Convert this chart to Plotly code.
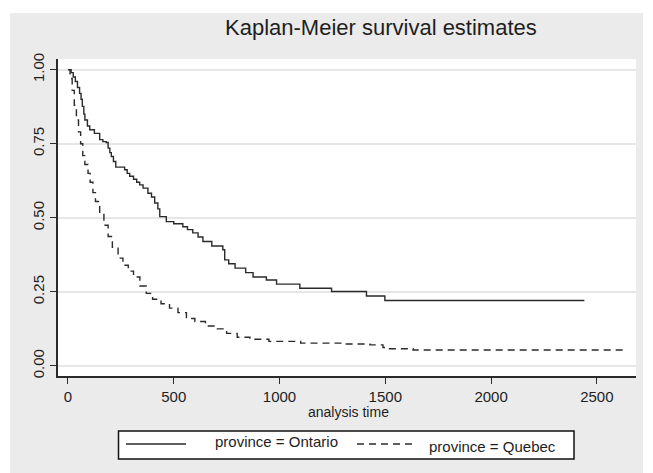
import plotly.graph_objects as go

# ---------------- data ----------------
ontario_time = [0, 15, 25, 35, 45, 55, 62, 68, 75, 80, 92, 103, 125, 150, 165, 181,
                190, 198, 205, 215, 226, 268, 280, 292, 310, 325, 339, 355, 378, 395,
                410, 425, 434, 465, 500, 543, 565, 590, 615, 638, 680, 732, 741, 760,
                790, 840, 875, 938, 986, 1096, 1246, 1411, 1498, 2441]
ontario_surv = [1.0, 0.99, 0.975, 0.96, 0.94, 0.92, 0.90, 0.876, 0.85, 0.83, 0.81, 0.797,
                0.785, 0.764, 0.757, 0.754, 0.735, 0.72, 0.707, 0.69, 0.671, 0.662, 0.65,
                0.64, 0.63, 0.62, 0.611, 0.60, 0.583, 0.57, 0.55, 0.53, 0.504, 0.487, 0.48,
                0.47, 0.46, 0.449, 0.435, 0.42, 0.405, 0.392, 0.358, 0.345, 0.33, 0.315,
                0.30, 0.29, 0.276, 0.262, 0.251, 0.236, 0.221, 0.221]

quebec_time = [0, 10, 20, 30, 40, 50, 60, 70, 80, 95, 105, 118, 130, 150, 170, 190, 210,
               237, 260, 285, 310, 340, 370, 400, 440, 480, 520, 560, 600, 650, 700, 750,
               800, 860, 950, 1100, 1300, 1427, 1489, 1520, 1631, 2625]
quebec_surv = [1.0, 0.97, 0.93, 0.88, 0.83, 0.79, 0.75, 0.71, 0.68, 0.65, 0.62, 0.585,
               0.555, 0.515, 0.475, 0.437, 0.40, 0.364, 0.34, 0.32, 0.30, 0.27, 0.245,
               0.225, 0.21, 0.195, 0.18, 0.16, 0.15, 0.135, 0.125, 0.11, 0.097, 0.09,
               0.083, 0.077, 0.074, 0.071, 0.062, 0.058, 0.054, 0.054]

x_ticks = [0, 500, 1000, 1500, 2000, 2500]
y_ticks = [0.0, 0.25, 0.5, 0.75, 1.0]
y_tick_labels = ["0.00", "0.25", "0.50", "0.75", "1.00"]

title_text = "Kaplan-Meier survival estimates"
x_title = "analysis time"
series_names = ["province = Ontario", "province = Quebec"]

# ---------------- layout helpers ----------------
W, H = 653, 473
L, R, T, B = 58, 636, 59, 376  # plot area in pixels


def px(x):
    return (x - L) / (R - L)


def py(y):
    return (B - y) / (B - T)


FONT = "Liberation Sans, Arial, sans-serif"
TXT = "#1e1e1e"
LINE = "#2a2a2a"

fig = go.Figure()
fig.add_trace(go.Scatter(x=ontario_time, y=ontario_surv, mode="lines", line_shape="hv",
                         line=dict(color=LINE, width=1.4), name=series_names[0],
                         showlegend=False))
fig.add_trace(go.Scatter(x=quebec_time, y=quebec_surv, mode="lines", line_shape="hv",
                         line=dict(color=LINE, width=1.4, dash="7px,5px"),
                         name=series_names[1], showlegend=False))

shapes = [
    # grey outer panel
    dict(type="rect", xref="paper", yref="paper", x0=px(10), x1=px(643), y0=py(473), y1=py(13),
         fillcolor="#ebebeb", line=dict(width=0), layer="below"),
    # white plot region
    dict(type="rect", xref="paper", yref="paper", x0=0, x1=1, y0=0, y1=1,
         fillcolor="white", line=dict(width=0), layer="below"),
    # legend box
    dict(type="rect", xref="paper", yref="paper", x0=px(118.5), x1=px(574), y0=py(459), y1=py(431),
         fillcolor="white", line=dict(color="#111", width=1.5), layer="above"),
    # legend samples
    dict(type="line", xref="paper", yref="paper", x0=px(126), x1=px(186), y0=py(444), y1=py(444),
         line=dict(color=LINE, width=1.4), layer="above"),
    dict(type="line", xref="paper", yref="paper", x0=px(357), x1=px(417), y0=py(444), y1=py(444),
         line=dict(color=LINE, width=1.4, dash="7px,5px"), layer="above"),
]

annotations = [
    dict(text=title_text, xref="paper", yref="paper", x=px(381), y=py(28), showarrow=False,
         xanchor="center", yanchor="middle", font=dict(family=FONT, size=22, color=TXT)),
    dict(text=x_title, xref="paper", yref="paper", x=px(348), y=py(412), showarrow=False,
         xanchor="center", yanchor="middle", font=dict(family=FONT, size=14, color=TXT)),
    dict(text=series_names[0], xref="paper", yref="paper", x=px(213), y=py(441), showarrow=False,
         xanchor="left", yanchor="middle", font=dict(family=FONT, size=15, color=TXT)),
    dict(text=series_names[1], xref="paper", yref="paper", x=px(427), y=py(446), showarrow=False,
         xanchor="left", yanchor="middle", font=dict(family=FONT, size=15, color=TXT)),
]

fig.update_layout(
    width=W, height=H, autosize=False,
    margin=dict(l=L, r=W - R, t=T, b=H - B, pad=0),
    paper_bgcolor="white", plot_bgcolor="white",
    showlegend=False,
    shapes=shapes, annotations=annotations,
    xaxis=dict(range=[-47, 2685], tickvals=x_ticks, ticks="outside", ticklen=6, tickwidth=1.3,
               tickcolor=LINE, showline=True, linecolor=LINE, linewidth=1.5, showgrid=False,
               zeroline=False, tickfont=dict(family=FONT, size=15, color=TXT)),
    yaxis=dict(range=[-0.034, 1.036], tickvals=y_ticks, ticktext=y_tick_labels, tickangle=-90,
               ticks="outside", ticklen=6, tickwidth=1.3, tickcolor=LINE, showline=True,
               linecolor=LINE, linewidth=1.5, showgrid=True, gridcolor="#e6e6e6", gridwidth=2,
               zeroline=False, tickfont=dict(family=FONT, size=15, color=TXT)),
)

fig.write_html("out.html")
